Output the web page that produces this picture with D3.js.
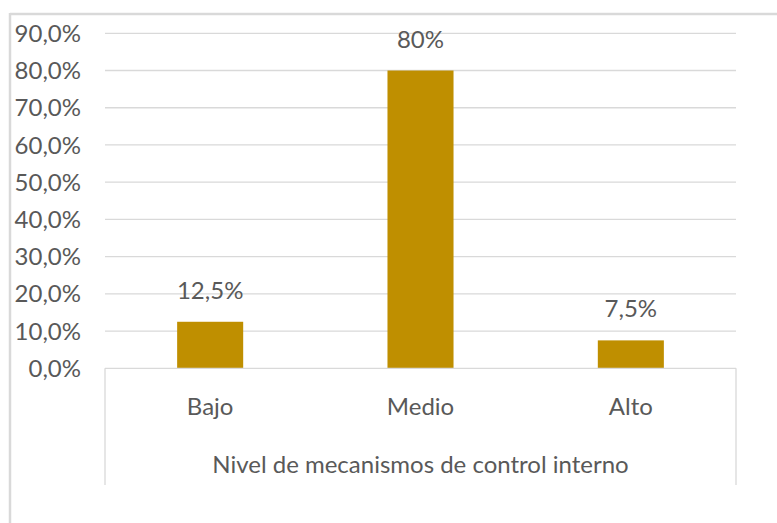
<!DOCTYPE html>
<html><head><meta charset="utf-8">
<script src="https://cdn.jsdelivr.net/npm/d3@7"></script>
<style>body{margin:0;background:#fff}svg{display:block}text{font-family:Lato,"Open Sans",sans-serif;fill:#595959}</style>
</head><body>
<script>
const categories = ["Bajo", "Medio", "Alto"];
const values = [12.5, 80, 7.5];
const valueLabels = ["12,5%", "80%", "7,5%"];
const yTicks = [0, 10, 20, 30, 40, 50, 60, 70, 80, 90];
const xTitle = "Nivel de mecanismos de control interno";

(function () {
const W = 777, H = 523, FS = "24px";
const svg = d3.select("body").append("svg").attr("width", W).attr("height", H);

svg.append("line").attr("x1", 10).attr("x2", W).attr("y1", 14).attr("y2", 14).attr("stroke", "#d9d9d9").attr("stroke-width", 2.5);
svg.append("line").attr("x1", 10).attr("x2", 10).attr("y1", 13).attr("y2", H).attr("stroke", "#d9d9d9").attr("stroke-width", 2.5);

const pLeft = 105, pRight = 736, pTop = 33.3, pBottom = 368.3;
const x = d3.scaleBand().domain(categories).range([pLeft, pRight]).paddingInner(0.686).paddingOuter(0.343);
const y = d3.scaleLinear().domain([0, 90]).range([pBottom, pTop]);

svg.append("g").selectAll("line").data(yTicks.filter(d => d > 0)).join("line")
  .attr("x1", pLeft).attr("x2", pRight).attr("y1", d => y(d)).attr("y2", d => y(d))
  .attr("stroke", "#d9d9d9").attr("stroke-width", 1.3);

const fmt = d => d.toFixed(1).replace(".", ",") + "%";
svg.append("g").selectAll("text").data(yTicks).join("text")
  .attr("x", 81).attr("y", d => y(d)).attr("dy", "0.36em").attr("text-anchor", "end")
  .style("font-size", FS).text(fmt);

svg.append("g").selectAll("rect").data(values).join("rect")
  .attr("x", (d, i) => x(categories[i])).attr("width", x.bandwidth())
  .attr("y", d => y(d)).attr("height", d => y(0) - y(d))
  .attr("fill", "#BF8F00");

svg.append("g").selectAll("text").data(values).join("text")
  .attr("x", (d, i) => x(categories[i]) + x.bandwidth() / 2).attr("y", d => y(d) - 23)
  .attr("text-anchor", "middle").style("font-size", FS).text((d, i) => valueLabels[i]);

svg.append("line").attr("x1", pLeft).attr("x2", pRight).attr("y1", pBottom).attr("y2", pBottom).attr("stroke", "#d9d9d9").attr("stroke-width", 1.3);
svg.append("line").attr("x1", pLeft).attr("x2", pLeft).attr("y1", pBottom).attr("y2", 485).attr("stroke", "#d9d9d9").attr("stroke-width", 1.3);
svg.append("line").attr("x1", pRight).attr("x2", pRight).attr("y1", pBottom).attr("y2", 485).attr("stroke", "#d9d9d9").attr("stroke-width", 1.3);

svg.append("g").selectAll("text").data(categories).join("text")
  .attr("x", d => x(d) + x.bandwidth() / 2).attr("y", 415)
  .attr("text-anchor", "middle").style("font-size", FS).text(d => d);

svg.append("text").attr("x", (pLeft + pRight) / 2).attr("y", 473)
  .attr("text-anchor", "middle").style("font-size", FS).text(xTitle);
})();
</script>
</body></html>
